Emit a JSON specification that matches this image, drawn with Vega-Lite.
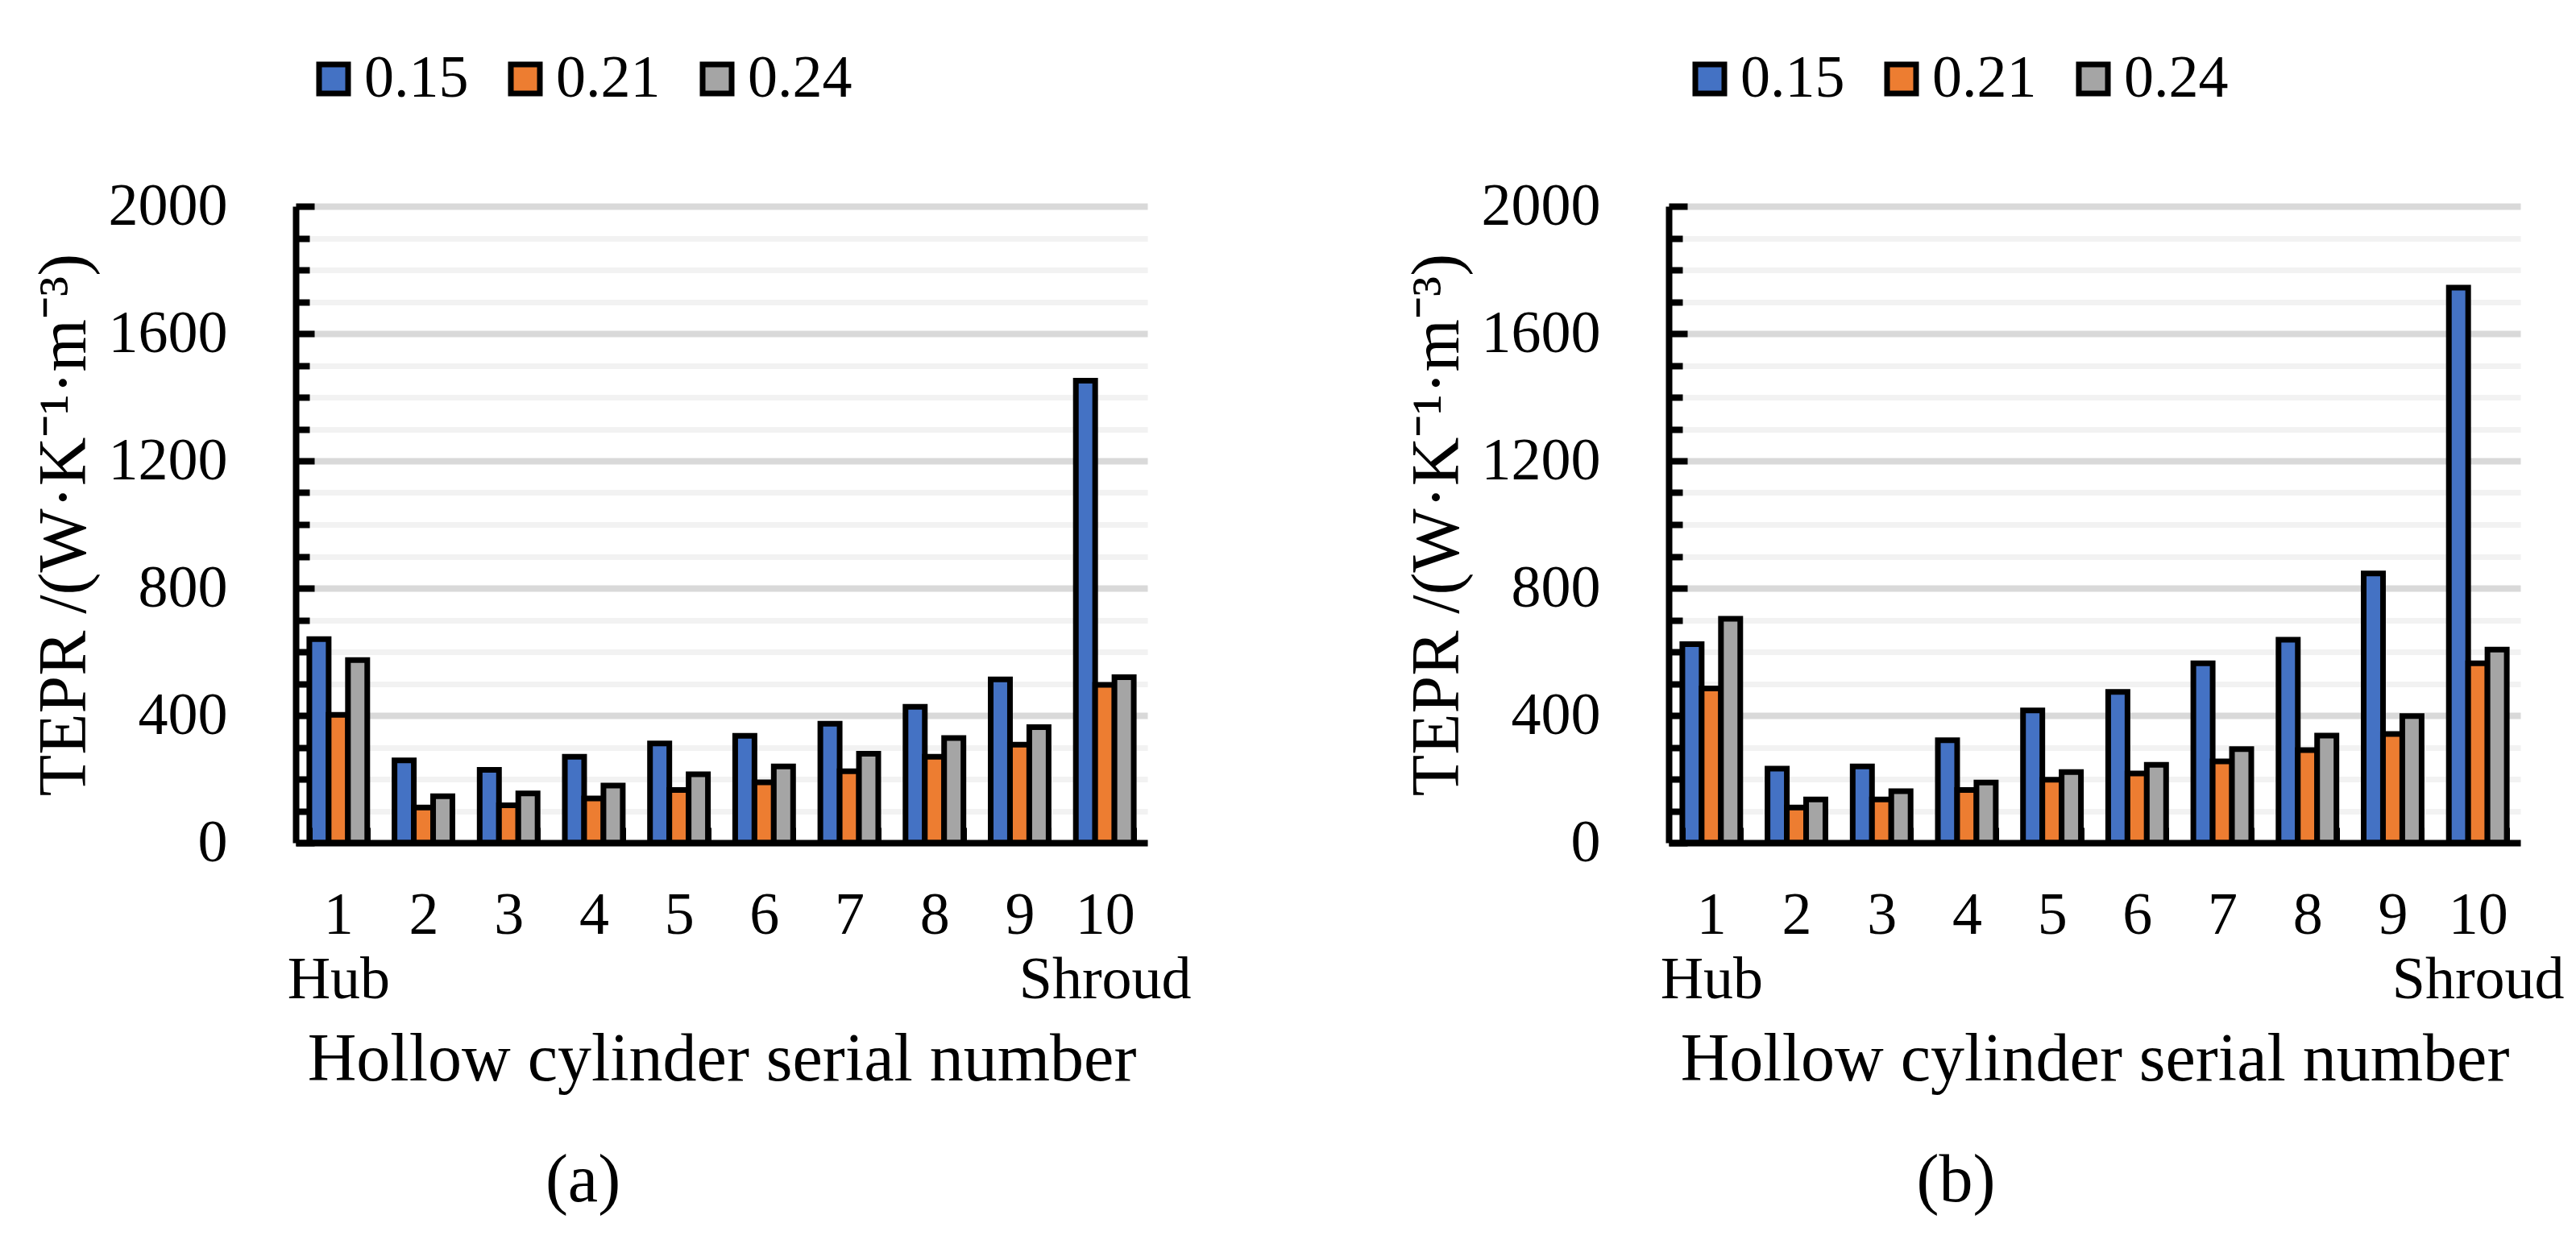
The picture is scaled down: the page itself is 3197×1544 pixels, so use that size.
{
  "$schema": "https://vega.github.io/schema/vega-lite/v6.json",
  "padding": {"left": 38, "top": 61, "right": 5, "bottom": 5},
  "background": "white",
  "config": {
    "font": "Liberation Serif",
    "view": {"stroke": null},
    "axis": {"labelColor": "black", "titleColor": "black", "titleFontWeight": "normal"},
    "title": {"color": "black"}
  },
  "datasets": {
    "a": [
      {"n": 1, "s": "0.15", "v": 640}, {"n": 1, "s": "0.21", "v": 402}, {"n": 1, "s": "0.24", "v": 574},
      {"n": 2, "s": "0.15", "v": 259}, {"n": 2, "s": "0.21", "v": 111}, {"n": 2, "s": "0.24", "v": 146},
      {"n": 3, "s": "0.15", "v": 229}, {"n": 3, "s": "0.21", "v": 118}, {"n": 3, "s": "0.24", "v": 155},
      {"n": 4, "s": "0.15", "v": 270}, {"n": 4, "s": "0.21", "v": 139}, {"n": 4, "s": "0.24", "v": 180},
      {"n": 5, "s": "0.15", "v": 312}, {"n": 5, "s": "0.21", "v": 166}, {"n": 5, "s": "0.24", "v": 215},
      {"n": 6, "s": "0.15", "v": 336}, {"n": 6, "s": "0.21", "v": 190}, {"n": 6, "s": "0.24", "v": 240},
      {"n": 7, "s": "0.15", "v": 374}, {"n": 7, "s": "0.21", "v": 225}, {"n": 7, "s": "0.24", "v": 280},
      {"n": 8, "s": "0.15", "v": 427}, {"n": 8, "s": "0.21", "v": 270}, {"n": 8, "s": "0.24", "v": 329},
      {"n": 9, "s": "0.15", "v": 513}, {"n": 9, "s": "0.21", "v": 308}, {"n": 9, "s": "0.24", "v": 363},
      {"n": 10, "s": "0.15", "v": 1452}, {"n": 10, "s": "0.21", "v": 496}, {"n": 10, "s": "0.24", "v": 520}
    ],
    "b": [
      {"n": 1, "s": "0.15", "v": 624}, {"n": 1, "s": "0.21", "v": 485}, {"n": 1, "s": "0.24", "v": 704},
      {"n": 2, "s": "0.15", "v": 233}, {"n": 2, "s": "0.21", "v": 111}, {"n": 2, "s": "0.24", "v": 136},
      {"n": 3, "s": "0.15", "v": 240}, {"n": 3, "s": "0.21", "v": 136}, {"n": 3, "s": "0.24", "v": 162},
      {"n": 4, "s": "0.15", "v": 322}, {"n": 4, "s": "0.21", "v": 166}, {"n": 4, "s": "0.24", "v": 189},
      {"n": 5, "s": "0.15", "v": 416}, {"n": 5, "s": "0.21", "v": 198}, {"n": 5, "s": "0.24", "v": 222},
      {"n": 6, "s": "0.15", "v": 474}, {"n": 6, "s": "0.21", "v": 218}, {"n": 6, "s": "0.24", "v": 245},
      {"n": 7, "s": "0.15", "v": 564}, {"n": 7, "s": "0.21", "v": 256}, {"n": 7, "s": "0.24", "v": 294},
      {"n": 8, "s": "0.15", "v": 638}, {"n": 8, "s": "0.21", "v": 291}, {"n": 8, "s": "0.24", "v": 337},
      {"n": 9, "s": "0.15", "v": 846}, {"n": 9, "s": "0.21", "v": 342}, {"n": 9, "s": "0.24", "v": 398},
      {"n": 10, "s": "0.15", "v": 1744}, {"n": 10, "s": "0.21", "v": 564}, {"n": 10, "s": "0.24", "v": 607}
    ]
  },
  "spacing": 263,
  "resolve": {"scale": {"color": "independent"}, "legend": {"color": "independent"}},
  "hconcat": [
    {
      "width": 1057, "height": 790,
      "data": {"name": "a"},
      "title": {"text": "(a)", "orient": "bottom", "fontSize": 84, "fontWeight": "normal", "offset": 68, "anchor": "middle", "frame": "group", "dx": -172},
      "layer": [
        {
          "mark": {"type": "bar", "stroke": "black", "strokeWidth": 7},
          "encoding": {
            "x": {"field": "n", "type": "ordinal", "scale": {"paddingInner": 0.32, "paddingOuter": 0.16},
              "axis": {"title": "Hollow cylinder serial number", "titleFontSize": 84, "titlePadding": 28,
                "labelAngle": 0, "labelFontSize": 74, "labelPadding": 73, "labelLineHeight": 80, "labelOverlap": false, "labelLimit": 0,
                "labelExpr": "datum.value == 1 ? ['1','Hub'] : datum.value == 10 ? ['10','Shroud'] : datum.label",
                "tickSize": -19, "tickWidth": 7, "tickBand": "extent", "tickColor": "black",
                "domainColor": "black", "domainWidth": 8, "grid": false, "zindex": 1}},
            "xOffset": {"field": "s", "type": "nominal", "scale": {"paddingInner": 0, "paddingOuter": 0}},
            "y": {"field": "v", "type": "quantitative", "scale": {"domain": [0, 2000], "nice": false},
              "axis": {"orient": "left", "values": [0, 400, 800, 1200, 1600, 2000], "format": "d", "title": "TEPR /(W·K⁻¹·m⁻³)",
                "titleFontSize": 84, "titlePadding": 44, "labelFontSize": 74, "labelPadding": 108,
                "tickSize": -23, "tickWidth": 8, "tickColor": "black", "domainColor": "black", "domainWidth": 8,
                "grid": true, "gridColor": "#d9d9d9", "gridWidth": 8, "zindex": 0}},
            "color": {"field": "s", "type": "nominal",
              "scale": {"domain": ["0.15", "0.21", "0.24"], "range": ["#4472C4", "#ED7D31", "#A5A5A5"]},
              "legend": {"orient": "none", "legendX": 10, "legendY": -195, "direction": "horizontal", "title": null, "padding": 0,
                "labelFontSize": 74, "labelColor": "black", "symbolType": "square", "symbolSize": 1296,
                "symbolStrokeColor": "black", "symbolStrokeWidth": 7, "labelOffset": 1, "columnPadding": 33, "symbolOpacity": 1}}
          }
        },
        {
          "mark": {"type": "tick", "opacity": 0},
          "encoding": {
            "y": {"field": "v", "type": "quantitative",
              "axis": {"orient": "left", "values": [100, 200, 300, 500, 600, 700, 900, 1000, 1100, 1300, 1400, 1500, 1700, 1800, 1900],
                "labels": false, "title": null, "domain": false, "tickSize": -17, "tickWidth": 8, "tickColor": "black",
                "grid": true, "gridColor": "#f2f2f2", "gridWidth": 7, "zindex": 0}}
          }
        }
      ],
      "resolve": {"axis": {"y": "independent"}}
    },
    {
      "width": 1057, "height": 790,
      "data": {"name": "b"},
      "title": {"text": "(b)", "orient": "bottom", "fontSize": 84, "fontWeight": "normal", "offset": 68, "anchor": "middle", "frame": "group", "dx": -172},
      "layer": [
        {
          "mark": {"type": "bar", "stroke": "black", "strokeWidth": 7},
          "encoding": {
            "x": {"field": "n", "type": "ordinal", "scale": {"paddingInner": 0.32, "paddingOuter": 0.16},
              "axis": {"title": "Hollow cylinder serial number", "titleFontSize": 84, "titlePadding": 28,
                "labelAngle": 0, "labelFontSize": 74, "labelPadding": 73, "labelLineHeight": 80, "labelOverlap": false, "labelLimit": 0,
                "labelExpr": "datum.value == 1 ? ['1','Hub'] : datum.value == 10 ? ['10','Shroud'] : datum.label",
                "tickSize": -19, "tickWidth": 7, "tickBand": "extent", "tickColor": "black",
                "domainColor": "black", "domainWidth": 8, "grid": false, "zindex": 1}},
            "xOffset": {"field": "s", "type": "nominal", "scale": {"paddingInner": 0, "paddingOuter": 0}},
            "y": {"field": "v", "type": "quantitative", "scale": {"domain": [0, 2000], "nice": false},
              "axis": {"orient": "left", "values": [0, 400, 800, 1200, 1600, 2000], "format": "d", "title": "TEPR /(W·K⁻¹·m⁻³)",
                "titleFontSize": 84, "titlePadding": 44, "labelFontSize": 74, "labelPadding": 108,
                "tickSize": -23, "tickWidth": 8, "tickColor": "black", "domainColor": "black", "domainWidth": 8,
                "grid": true, "gridColor": "#d9d9d9", "gridWidth": 8, "zindex": 0}},
            "color": {"field": "s", "type": "nominal",
              "scale": {"domain": ["0.15", "0.21", "0.24"], "range": ["#4472C4", "#ED7D31", "#A5A5A5"]},
              "legend": {"orient": "none", "legendX": 14, "legendY": -195, "direction": "horizontal", "title": null, "padding": 0,
                "labelFontSize": 74, "labelColor": "black", "symbolType": "square", "symbolSize": 1296,
                "symbolStrokeColor": "black", "symbolStrokeWidth": 7, "labelOffset": 1, "columnPadding": 33, "symbolOpacity": 1}}
          }
        },
        {
          "mark": {"type": "tick", "opacity": 0},
          "encoding": {
            "y": {"field": "v", "type": "quantitative",
              "axis": {"orient": "left", "values": [100, 200, 300, 500, 600, 700, 900, 1000, 1100, 1300, 1400, 1500, 1700, 1800, 1900],
                "labels": false, "title": null, "domain": false, "tickSize": -17, "tickWidth": 8, "tickColor": "black",
                "grid": true, "gridColor": "#f2f2f2", "gridWidth": 7, "zindex": 0}}
          }
        }
      ],
      "resolve": {"axis": {"y": "independent"}}
    }
  ]
}
